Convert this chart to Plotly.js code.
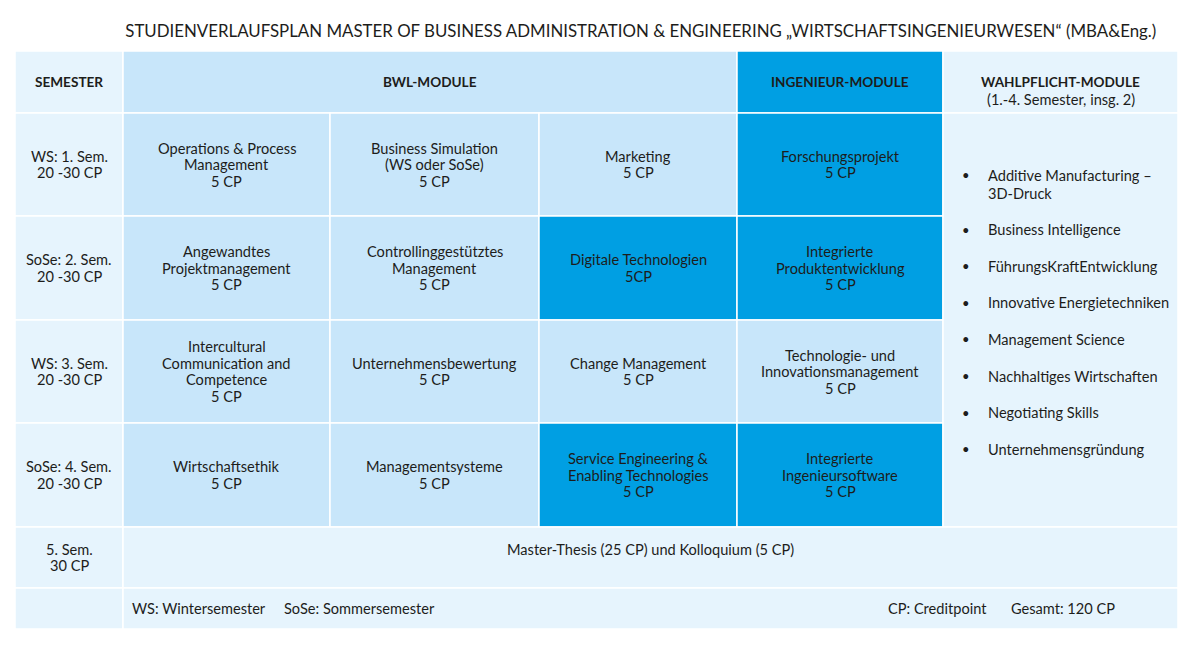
<!DOCTYPE html>
<html><head><meta charset="utf-8">
<script src="https://cdn.plot.ly/plotly-3.0.1.min.js"></script>
<style>html,body{margin:0;padding:0;background:#fff}</style>
</head><body><div id="chart" style="width:1200px;height:656px"></div>
<script>
// ---------- DATA ----------
const chartTitle = "STUDIENVERLAUFSPLAN MASTER OF BUSINESS ADMINISTRATION & ENGINEERING „WIRTSCHAFTSINGENIEURWESEN“ (MBA&Eng.)";
const headerLabels = ["SEMESTER", "BWL-MODULE", "INGENIEUR-MODULE", "WAHLPFLICHT-MODULE"];
const headerSubLabel = "(1.-4. Semester, insg. 2)";
const semesterLabels = ["WS: 1. Sem.", "SoSe: 2. Sem.", "WS: 3. Sem.", "SoSe: 4. Sem.", "5. Sem."];
const semesterCredits = ["20 -30 CP", "20 -30 CP", "20 -30 CP", "20 -30 CP", "30 CP"];
const moduleNames = [
  ["Operations & Process|Management", "Business Simulation|(WS oder SoSe)", "Marketing", "Forschungsprojekt"],
  ["Angewandtes|Projektmanagement", "Controllinggestütztes|Management", "Digitale Technologien", "Integrierte|Produktentwicklung"],
  ["Intercultural|Communication and|Competence", "Unternehmensbewertung", "Change Management", "Technologie- und|Innovationsmanagement"],
  ["Wirtschaftsethik", "Managementsysteme", "Service Engineering &|Enabling Technologies", "Integrierte|Ingenieursoftware"]
];
const moduleCredits = [
  ["5 CP", "5 CP", "5 CP", "5 CP"],
  ["5 CP", "5 CP", "5CP", "5 CP"],
  ["5 CP", "5 CP", "5 CP", "5 CP"],
  ["5 CP", "5 CP", "5 CP", "5 CP"]
];
const moduleGroup = [
  ["BWL", "BWL", "BWL", "ING"],
  ["BWL", "BWL", "ING", "ING"],
  ["BWL", "BWL", "BWL", "BWL"],
  ["BWL", "BWL", "ING", "ING"]
];
const electiveModules = [
  "Additive Manufacturing –|3D-Druck",
  "Business Intelligence",
  "FührungsKraftEntwicklung",
  "Innovative Energietechniken",
  "Management Science",
  "Nachhaltiges Wirtschaften",
  "Negotiating Skills",
  "Unternehmensgründung"
];
const thesisLabel = "Master-Thesis (25 CP) und Kolloquium (5 CP)";
const footerNotesLeft = ["WS: Wintersemester", "SoSe: Sommersemester"];
const footerNotesRight = ["CP: Creditpoint", "Gesamt: 120 CP"];

// ---------- LAYOUT / STYLE ----------
const colEdges = [15, 123, 330, 539, 737, 943, 1178];
const rowEdges = [51, 113, 216, 320, 423, 527, 588, 629];
const PALE = "#E6F4FD", LIGHT = "#C8E6FA", DARK = "#009FE3", TEXT = "#1d1d1b";
const FONT = "Lato, 'Noto Sans', sans-serif";
const FS = 14.6;
const LH = 16.5;
const groupColor = {BWL: LIGHT, ING: DARK};

const shapes = [];
const annotations = [];
function cell(c0, c1, r0, r1, color) {
  shapes.push({type: "rect", xref: "x", yref: "y", x0: colEdges[c0], x1: colEdges[c1],
    y0: rowEdges[r0], y1: rowEdges[r1], fillcolor: color, line: {color: "#ffffff", width: 1.5}, layer: "below"});
}
function label(x, y, text, opts) {
  annotations.push(Object.assign({xref: "x", yref: "y", x: x, y: y, text: text, showarrow: false,
    font: {family: FONT, size: FS, color: TEXT}, xanchor: "center", yanchor: "middle", align: "center"}, opts || {}));
}
function block(x, yc, lines, opts) {
  const n = lines.length;
  lines.forEach((t, i) => label(x, yc + (i - (n - 1) / 2) * LH, t, opts));
}
const mid = (a, b) => (a + b) / 2;
const leftOpt = {xanchor: "left", align: "left", borderpad: 0};

// header
cell(0, 1, 0, 1, PALE);
cell(1, 4, 0, 1, LIGHT);
cell(4, 5, 0, 1, DARK);
cell(5, 6, 0, 1, PALE);
const hy = mid(rowEdges[0], rowEdges[1]);
const bold = {font: {family: FONT, size: 13.6, color: TEXT}};
label(mid(colEdges[0], colEdges[1]), hy, "<b>" + headerLabels[0] + "</b>", bold);
label(mid(colEdges[1], colEdges[4]), hy, "<b>" + headerLabels[1] + "</b>", bold);
label(mid(colEdges[4], colEdges[5]), hy, "<b>" + headerLabels[2] + "</b>", bold);
label(mid(colEdges[5], colEdges[6]), hy, "<b>" + headerLabels[3] + "</b>", bold);
label(mid(colEdges[5], colEdges[6]), hy + 17, headerSubLabel);

// semester rows
semesterLabels.forEach((s, i) => {
  cell(0, 1, i + 1, i + 2, PALE);
  block(mid(colEdges[0], colEdges[1]), mid(rowEdges[i + 1], rowEdges[i + 2]), [s, semesterCredits[i]]);
});
// modules
moduleNames.forEach((row, r) => {
  row.forEach((name, c) => {
    cell(c + 1, c + 2, r + 1, r + 2, groupColor[moduleGroup[r][c]]);
    block(mid(colEdges[c + 1], colEdges[c + 2]), mid(rowEdges[r + 1], rowEdges[r + 2]),
      name.split("|").concat([moduleCredits[r][c]]));
  });
});
// electives
cell(5, 6, 1, 5, PALE);
let ey = 175;
electiveModules.forEach((m) => {
  const lines = m.split("|");
  label(966, ey, "•", {font: {family: FONT, size: 13, color: TEXT}});
  lines.forEach((t, i) => label(987, ey + i * 18, t, leftOpt));
  ey += (lines.length - 1) * 18 + 36.6;
});
// thesis
cell(1, 6, 5, 6, PALE);
label(mid(colEdges[1], colEdges[6]), mid(rowEdges[5], rowEdges[6]) - 8, thesisLabel);
// footer
cell(0, 1, 6, 7, PALE);
cell(1, 6, 6, 7, PALE);
const fy = mid(rowEdges[6], rowEdges[7]);
label(131, fy, footerNotesLeft[0], leftOpt);
label(283, fy, footerNotesLeft[1], leftOpt);
label(887, fy, footerNotesRight[0], leftOpt);
label(1010, fy, footerNotesRight[1], leftOpt);

const layout = {
  width: 1200, height: 656,
  margin: {l: 0, r: 0, t: 0, b: 0},
  paper_bgcolor: "#ffffff", plot_bgcolor: "#ffffff",
  title: {text: chartTitle, x: 0.534, xanchor: "center", y: 1 - 31 / 656, yanchor: "middle", yref: "container",
    font: {family: FONT, size: 16.85, color: TEXT}},
  xaxis: {range: [0, 1200], visible: false, fixedrange: true},
  yaxis: {range: [656, 0], visible: false, fixedrange: true},
  showlegend: false,
  shapes: shapes,
  annotations: annotations
};
Plotly.newPlot("chart", [], layout, {displayModeBar: false, staticPlot: true});
</script></body></html>
